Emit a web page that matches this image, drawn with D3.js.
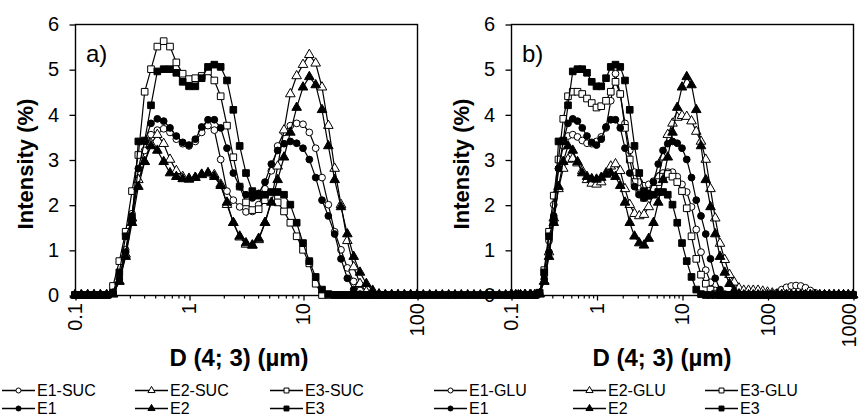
<!DOCTYPE html>
<html><head><meta charset="utf-8">
<script src="https://cdn.jsdelivr.net/npm/d3@7"></script>
<style>body{margin:0;background:#fff}svg{display:block}text{font-family:"Liberation Sans",Arial,sans-serif;fill:#000}</style>
</head><body><svg id="chart" width="862" height="418"></svg>
<script>
// Size classes (µm), 18 per decade, 0.1 .. 1000
const sizeClasses = [0.1,0.1136,0.1292,0.1468,0.1668,0.1896,0.2154,0.2448,0.2783,0.3162,0.3594,0.4084,0.4642,0.5275,0.5995,0.6813,0.7743,0.8799,
 1,1.136,1.292,1.468,1.668,1.896,2.154,2.448,2.783,3.162,3.594,4.084,4.642,5.275,5.995,6.813,7.743,8.799,
 10,11.36,12.92,14.68,16.68,18.96,21.54,24.48,27.83,31.62,35.94,40.84,46.42,52.75,59.95,68.13,77.43,87.99,
 100,113.6,129.2,146.8,166.8,189.6,215.4,244.8,278.3,316.2,359.4,408.4,464.2,527.5,599.5,681.3,774.3,879.9,1000];

const yTicks = [0,1,2,3,4,5,6];
const xTicksA = [0.1,1,10,100];
const xTicksB = [0.1,1,10,100,1000];
const xTickLabelsA = ["0.1","1","10","100"];
const xTickLabelsB = ["0.1","1","10","100","1000"];

// Reference emulsions (same in both panels)
const e1 = [0,0,0,0,0,0,0.05,0.35,0.95,1.75,2.8,3.4,3.8,3.9,3.85,3.7,3.52,3.38,3.32,3.45,3.72,3.88,3.88,3.7,3.25,2.7,2.4,2.22,2.15,2.25,2.5,2.9,3.2,3.35,3.4,3.36,3.25,3.0,2.6,2.1,1.75,1.35,0.8,0.37,0.12,0.02,
 0,0,0,0,0,0,0,0,0,0,0,0,0,0,0,0,0,0,0,0,0,0,0,0,0,0,0];
const e2 = [0,0,0,0,0,0,0.02,0.3,0.85,1.6,2.4,2.95,3.3,3.2,2.95,2.7,2.62,2.57,2.56,2.6,2.67,2.7,2.62,2.42,2.05,1.6,1.3,1.15,1.1,1.25,1.6,2.05,2.55,3.05,3.6,4.15,4.6,4.83,4.65,4.1,3.3,2.55,1.95,1.35,0.85,0.5,0.25,0.1,0.02,
 0,0,0,0,0,0,0,0,0,0,0,0,0,0,0,0,0,0,0,0,0,0,0,0];
const e3 = [0,0,0,0,0,0,0.05,0.5,1.3,1.65,3.4,3.42,4.2,4.95,5.0,5.0,4.92,4.72,4.62,4.62,4.8,5.05,5.1,5.05,4.75,4.1,3.3,2.7,2.3,2.2,2.22,2.28,2.28,2.22,2.0,1.6,1.15,0.75,0.4,0.12,0.02,
 0,0,0,0,0,0,0,0,0,0,0,0,0,0,0,0,0,0,0,0,0,0,0,0,0,0,0,0,0,0,0,0];

// Sucrose emulsions (panel a, 0.1 .. 100 µm)
const e1Suc = [0,0,0,0,0,0,0.05,0.4,1.0,1.8,2.7,3.2,3.55,3.65,3.68,3.6,3.45,3.35,3.3,3.4,3.6,3.75,3.65,3.0,2.3,2.1,1.95,1.84,1.85,2.0,2.35,2.75,3.3,3.6,3.75,3.8,3.78,3.6,3.25,2.6,2.0,1.4,1.0,0.6,0.3,0.1,0.02,0,0,0,0,0,0,0,0];
const e2Suc = [0,0,0,0,0,0,0.02,0.3,0.9,1.7,2.55,2.95,3.35,3.55,3.35,3.0,2.75,2.62,2.58,2.6,2.66,2.7,2.66,2.45,2.0,1.6,1.28,1.12,1.1,1.22,1.6,2.1,2.85,3.65,4.45,4.85,5.1,5.32,5.13,4.6,3.75,2.8,2.0,1.2,0.62,0.25,0.07,0,0,0,0,0,0,0,0];
const e3Suc = [0,0,0,0,0,0,0.2,0.75,1.4,2.3,3.1,4.5,5.0,5.5,5.62,5.5,5.15,4.9,4.78,4.8,4.85,4.95,4.75,4.4,3.75,3.05,2.4,2.05,1.88,1.9,2.1,2.15,2.05,1.85,1.6,1.3,1.0,0.7,0.25,0,0,0,0,0,0,0,0,0,0,0,0,0,0,0,0];

// Glucose emulsions (panel b, 0.1 .. 1000 µm)
const e1Glu = [0,0,0,0,0,0,0.03,0.45,1.2,2.0,2.8,3.3,3.52,3.55,3.5,3.42,3.36,3.35,3.4,3.5,3.7,4.3,4.9,4.45,3.8,3.2,2.72,2.5,2.42,2.45,2.52,2.62,2.7,2.72,2.72,2.62,2.45,2.28,1.95,1.45,0.95,0.55,0.28,0.1,0.03,
 0,0,0,0,0,0,0,0,0,0,0,0.05,0.12,0.17,0.2,0.21,0.2,0.16,0.1,0.05,0,0,0,0,0,0,0,0];
const e2Glu = [0,0,0,0,0,0,0.02,0.3,0.95,1.7,2.35,2.8,3.0,3.02,2.92,2.75,2.55,2.47,2.45,2.5,2.7,2.85,2.9,2.75,2.35,2.0,1.8,1.75,1.78,1.95,2.25,2.6,3.05,3.55,3.8,3.93,3.97,3.95,3.85,3.62,3.4,3.0,2.35,1.7,1.14,0.78,0.45,0.28,0.15,0.1,0.1,0.1,0.1,0.08,0.06,0.04,0.02,
 0,0,0,0,0,0,0,0,0,0,0,0,0,0,0,0];
const e3Glu = [0,0,0,0,0,0,0.05,0.55,1.4,2.2,3.0,3.9,4.4,4.5,4.5,4.45,4.35,4.25,4.15,4.18,4.3,4.5,4.72,4.45,3.7,3.0,2.5,2.25,2.15,2.2,2.35,2.5,2.62,2.68,2.62,2.5,2.3,1.92,1.3,0.8,0.45,0.25,0.12,0.03,
 0,0,0,0,0,0,0,0,0,0,0,0,0,0,0,0,0,0,0,0,0,0,0,0,0,0,0,0,0];

const seriesA = [
  {name:"E1-SUC", values:e1Suc, shape:"circle", filled:false},
  {name:"E2-SUC", values:e2Suc, shape:"triangle", filled:false},
  {name:"E3-SUC", values:e3Suc, shape:"square", filled:false},
  {name:"E1", values:e1, shape:"circle", filled:true},
  {name:"E2", values:e2, shape:"triangle", filled:true},
  {name:"E3", values:e3, shape:"square", filled:true}
];
const seriesB = [
  {name:"E1-GLU", values:e1Glu, shape:"circle", filled:false},
  {name:"E2-GLU", values:e2Glu, shape:"triangle", filled:false},
  {name:"E3-GLU", values:e3Glu, shape:"square", filled:false},
  {name:"E1", values:e1, shape:"circle", filled:true},
  {name:"E2", values:e2, shape:"triangle", filled:true},
  {name:"E3", values:e3, shape:"square", filled:true}
];

const panels = [
  {label:"a)", x0:75, x1:417, domain:[0.1,100], ticks:xTicksA, tickLabels:xTickLabelsA, series:seriesA,
   titleX:239, yTitleX:25, legendX:[2,135,270]},
  {label:"b)", x0:511, x1:853, domain:[0.1,1000], ticks:xTicksB, tickLabels:xTickLabelsB, series:seriesB,
   titleX:662, yTitleX:461, legendX:[434,573,705]}
];

const yTop = 24, yBot = 295;
const svg = d3.select("#chart");
const symType = {circle:d3.symbolCircle, triangle:d3.symbolTriangle, square:d3.symbolSquare};
const symSize = {circle:36, triangle:40, square:44};

function txt(g, str, x, y, o) {
  o = o || {};
  const t = g.append("text")
    .attr("transform", `translate(${x},${y})` + (o.sx ? ` scale(${o.sx},1)` : "") + (o.rot ? ` rotate(${o.rot})` : ""))
    .attr("text-anchor", o.anchor || "start")
    .style("font-size", (o.size || 19) + "px")
    .style("font-weight", o.bold ? "bold" : "normal")
    .text(str);
  if (o.dy) t.attr("dy", o.dy);
  return t;
}

panels.forEach(p => {
  const g = svg.append("g");
  const x = d3.scaleLog().domain(p.domain).range([p.x0, p.x1]);
  const y = d3.scaleLinear().domain([0, 6]).range([yBot, yTop]);

  // frame
  g.append("rect").attr("x", p.x0 + 0.5).attr("y", yTop + 0.5)
    .attr("width", p.x1 - p.x0).attr("height", yBot - yTop)
    .attr("fill", "none").attr("stroke", "#000").attr("stroke-width", 1.4);

  // y axis ticks
  const ya = g.append("g").attr("transform", `translate(${p.x0 + 0.5},0.5)`)
    .call(d3.axisLeft(y).tickValues(yTicks).tickSize(6).tickFormat(""));
  ya.select(".domain").remove();
  ya.selectAll("line").attr("stroke", "#000").attr("stroke-width", 1.3);
  yTicks.forEach(v => txt(g, String(v), p.x0 - 16, y(v), {anchor:"end", size:20, dy:"0.36em"}));

  // x axis minor + major ticks
  const minor = [];
  const [lo, hi] = p.domain;
  for (let dec = lo; dec < hi; dec *= 10)
    for (let m = 2; m <= 9; m++) minor.push(+(dec * m).toPrecision(6));
  const xm = g.append("g").attr("transform", `translate(0.5,${yBot + 0.5})`)
    .call(d3.axisBottom(x).tickValues(minor).tickSize(3).tickFormat(""));
  xm.select(".domain").remove();
  xm.selectAll("line").attr("stroke", "#000").attr("stroke-width", 1.2);
  const xM = g.append("g").attr("transform", `translate(0.5,${yBot + 0.5})`)
    .call(d3.axisBottom(x).tickValues(p.ticks).tickSize(5).tickFormat(""));
  xM.select(".domain").remove();
  xM.selectAll("line").attr("stroke", "#000").attr("stroke-width", 1.3);
  p.ticks.forEach((t, i) => txt(g, p.tickLabels[i], Math.min(x(t), 849), 303, {anchor:"end", rot:-90, size:20, dy:"0.36em"}));

  // axis titles
  txt(g, "Intensity (%)", p.yTitleX, 164, {anchor:"middle", rot:-90, size:22, bold:true, dy:"0.36em"});
  txt(g, "D (4; 3) (µm)", p.titleX, 366, {anchor:"middle", size:24, bold:true});

  // panel label
  txt(g, p.label, p.x0 + 11, 62, {size:24});

  // series
  const line = d3.line().x(d => x(d.s)).y(d => y(d.v));
  p.series.forEach(s => {
    const pts = s.values.map((v, i) => ({s: sizeClasses[i], v}));
    g.append("path").datum(pts).attr("d", line)
      .attr("fill", "none").attr("stroke", "#000").attr("stroke-width", 1.2);
    g.append("g").selectAll("path").data(pts).join("path")
      .attr("transform", d => `translate(${x(d.s)},${y(d.v)})`)
      .attr("d", d3.symbol().type(symType[s.shape]).size(symSize[s.shape]))
      .attr("fill", s.filled ? "#000" : "#fff")
      .attr("stroke", "#000").attr("stroke-width", 1);
  });

  // legend
  p.series.forEach((s, i) => {
    const col = i % 3, row = Math.floor(i / 3);
    const lx = p.legendX[col], base = row === 0 ? 396 : 414, ly = base - 5.5;
    g.append("line").attr("x1", lx).attr("x2", lx + 33).attr("y1", ly).attr("y2", ly)
      .attr("stroke", "#000").attr("stroke-width", 1.4);
    g.append("path").attr("transform", `translate(${lx + 16.5},${ly})`)
      .attr("d", d3.symbol().type(symType[s.shape]).size(symSize[s.shape] * 0.55))
      .attr("fill", s.filled ? "#000" : "#fff").attr("stroke", "#000").attr("stroke-width", 1);
    txt(g, s.name, lx + 35, base, {size:16});
  });
});
</script></body></html>
